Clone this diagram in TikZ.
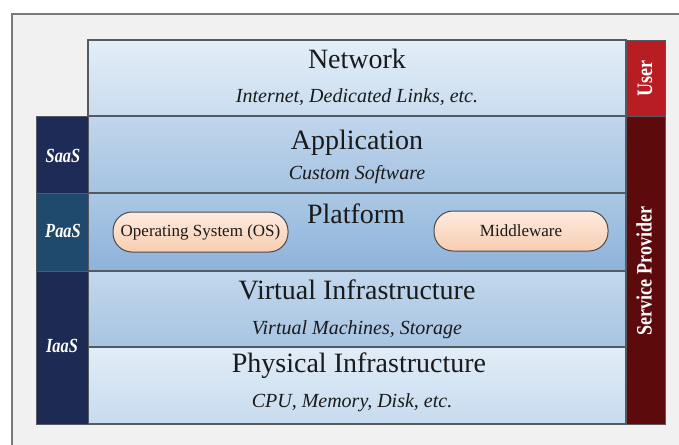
\documentclass[tikz,border=0pt]{standalone}
\usepackage{fontspec}
\setmainfont{Liberation Serif}
\newfontfamily\condserif[FakeStretch=0.82]{Liberation Serif}
\definecolor{framegray}{HTML}{7A7A7A}
\definecolor{framebg}{HTML}{F1F1F1}
\definecolor{bandline}{HTML}{555A60}
\definecolor{netT}{HTML}{E3EEF8}
\definecolor{netB}{HTML}{C9DCEF}
\definecolor{appT}{HTML}{C0D6EC}
\definecolor{appB}{HTML}{A5C3E2}
\definecolor{platT}{HTML}{ABC8E5}
\definecolor{platB}{HTML}{8DB3DA}
\definecolor{virtT}{HTML}{C2D8ED}
\definecolor{virtB}{HTML}{A7C4E2}
\definecolor{physT}{HTML}{E2EDF7}
\definecolor{physB}{HTML}{C7DBEF}
\definecolor{saascol}{HTML}{1E2B56}
\definecolor{paascol}{HTML}{1F4A6E}
\definecolor{iaascol}{HTML}{1D2A53}
\definecolor{usercol}{HTML}{B81D24}
\definecolor{spcol}{HTML}{5C0A0C}
\definecolor{peachT}{HTML}{FDEBDF}
\definecolor{peachB}{HTML}{F8CDB0}
\definecolor{pillline}{HTML}{4A4A4A}
\definecolor{textcol}{HTML}{1A1A1A}
\begin{document}
\begin{tikzpicture}[x=1pt,y=-1pt,
  band/.style={draw=bandline, line width=1.2pt, minimum width=538pt, inner sep=0pt, outer sep=0pt},
  sidebox/.style={draw=bandline, line width=0.8pt, minimum width=52pt, inner sep=0pt, outer sep=0pt},
  rightbox/.style={draw=bandline, line width=0.8pt, minimum width=39pt, inner sep=0pt, outer sep=0pt},
  title/.style={anchor=base, text=textcol, font=\fontsize{28}{28}\selectfont, inner sep=0pt},
  subtitle/.style={anchor=base, text=textcol, font=\itshape\fontsize{20}{20}\selectfont, inner sep=0pt},
  sidelabel/.style={anchor=base, text=white, font=\condserif\bfseries\itshape\fontsize{20}{20}\selectfont, inner sep=0pt},
  rotlabel/.style={rotate=90, text=white, font=\condserif\bfseries\fontsize{22}{22}\selectfont, inner sep=0pt},
  pill/.style={draw=pillline, line width=1pt, rounded corners=19pt, minimum height=40pt, inner sep=0pt,
    top color=peachT, bottom color=peachB, text=textcol, font=\fontsize{17}{17}\selectfont}]
\useasboundingbox (0,0) rectangle (679,444);
\clip (0,0) rectangle (679,444);
\fill[white] (0,0) rectangle (679,444);
\node[draw=framegray, fill=framebg, line width=1.5pt, minimum width=688pt, minimum height=456pt, inner sep=0pt] (frame) at (356,242) {};
% layers
\node[band, top color=netT, bottom color=netB, minimum height=76pt] (net) at (357,78) {};
\node[band, top color=appT, bottom color=appB, minimum height=77pt] (app) at (357,154.5) {};
\node[band, top color=platT, bottom color=platB, minimum height=78pt] (plat) at (357,232) {};
\node[band, top color=virtT, bottom color=virtB, minimum height=76pt] (virt) at (357,309) {};
\node[band, top color=physT, bottom color=physB, minimum height=77pt] (phys) at (357,385.5) {};
% left column
\node[sidebox, fill=saascol, minimum height=77pt] (saas) at (62,154.5) {};
\node[sidebox, fill=paascol, minimum height=78pt] (paas) at (62,232) {};
\node[sidebox, fill=iaascol, minimum height=153pt] (iaas) at (62,347.5) {};
% right column
\node[rightbox, fill=usercol, minimum height=76pt] (user) at (645.5,78) {};
\node[rightbox, fill=spcol, minimum height=308pt] (sp) at (645.5,270) {};
% pills
\node[pill, minimum width=175pt] (os) at (200.5,232) {Operating System (OS)};
\node[pill, minimum width=174pt] (mw) at (521,231) {Middleware};
% titles
\node[title] (netTitle) at (357,68) {Network};
\node[subtitle] (netSub) at (357,102) {Internet, Dedicated Links, etc.};
\node[title] (appTitle) at (357,149) {Application};
\node[subtitle] (appSub) at (357,179) {Custom Software};
\node[title] (platTitle) at (356,223) {Platform};
\node[title] (virtTitle) at (357,299) {Virtual Infrastructure};
\node[subtitle] (virtSub) at (357,334) {Virtual Machines, Storage};
\node[title] (physTitle) at (359,372) {Physical Infrastructure};
\node[subtitle] (physSub) at (352,407) {CPU, Memory, Disk, etc.};
% side labels
\node[sidelabel] (saasL) at (63,162) {SaaS};
\node[sidelabel] (paasL) at (63,237) {PaaS};
\node[sidelabel] (iaasL) at (62,352) {IaaS};
\node[rotlabel] (userL) at (645,78.5) {User};
\node[rotlabel] (spL) at (644,271) {Service Provider};
\end{tikzpicture}
\end{document}
